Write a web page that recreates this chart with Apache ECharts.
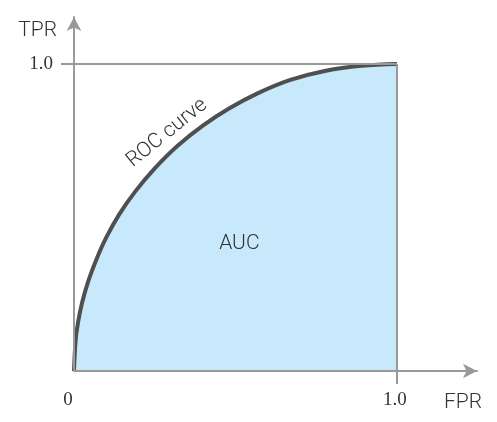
<!DOCTYPE html>
<html>
<head>
<meta charset="utf-8">
<script src="https://cdn.jsdelivr.net/npm/echarts@6/dist/echarts.min.js"></script>
<style>
html,body{margin:0;padding:0;background:#fff;}
#chart{width:497px;height:422px;}
</style>
</head>
<body>
<div id="chart"></div>
<script>
// Data
const fprValues = [0, 0.005, 0.012, 0.025, 0.045, 0.07, 0.1, 0.14, 0.19, 0.25, 0.32, 0.4, 0.48, 0.57, 0.67, 0.78, 0.89, 1];
const tprValues = [0, 0.10, 0.155, 0.222, 0.295, 0.365, 0.435, 0.51, 0.585, 0.66, 0.733, 0.80, 0.855, 0.905, 0.948, 0.978, 0.994, 1];
const xTickLabels = [0, 1];
const yTickLabels = [1];
const refLines = [
  [[0, 1], [1, 1]],
  [[1, 0], [1, 1]]
];
const annotations = [
  { name: 'ROC curve', coord: [0.288, 0.775], rotate: 39 },
  { name: 'AUC', coord: [0.512, 0.414], rotate: 0 }
];

const axisGray = '#999999';
const sansFont = 'Roboto, "Liberation Sans", sans-serif';
const serifFont = '"Liberation Serif", "DejaVu Serif", serif';

const curveData = fprValues.map((x, i) => [x, tprValues[i]]);

const chart = echarts.init(document.getElementById('chart'));
chart.setOption({
  animation: false,
  backgroundColor: '#ffffff',
  grid: { left: 74, right: 20, top: 17, bottom: 51 },
  xAxis: {
    type: 'value', min: 0, max: 1.248, z: 5,
    name: 'FPR', nameLocation: 'end', nameGap: -33,
    nameTextStyle: { fontFamily: sansFont, fontSize: 21, fontWeight: 300, color: '#333', align: 'left', verticalAlign: 'top', padding: [21, 0, 0, 0] },
    axisLine: { show: true, symbol: ['none', 'arrow'], symbolSize: [11, 14], lineStyle: { color: axisGray, width: 2 } },
    axisTick: { show: true, customValues: [1], length: 13, lineStyle: { color: axisGray, width: 2 } },
    axisLabel: {
      customValues: xTickLabels, margin: 20,
      fontFamily: serifFont, fontSize: 19, color: '#333',
      formatter: v => v === 0 ? '{a|0}' : '{b|1.0}',
      rich: {
        a: { fontFamily: serifFont, fontSize: 19, color: '#333', padding: [0, 12, 0, 0] },
        b: { fontFamily: serifFont, fontSize: 19, color: '#333', padding: [0, 4, 0, 0] }
      }
    },
    splitLine: { show: false }
  },
  yAxis: {
    type: 'value', min: 0, max: 1.153, z: 5,
    name: 'TPR', nameLocation: 'end', nameGap: -14,
    nameTextStyle: { fontFamily: sansFont, fontSize: 21, fontWeight: 300, color: '#333', align: 'right', verticalAlign: 'middle', padding: [0, 17, 0, 0] },
    axisLine: { show: true, symbol: ['none', 'arrow'], symbolSize: [11, 14], lineStyle: { color: axisGray, width: 2 } },
    axisTick: { show: true, customValues: yTickLabels, length: 13, lineStyle: { color: axisGray, width: 2 } },
    axisLabel: {
      customValues: yTickLabels, margin: 21,
      fontFamily: serifFont, fontSize: 19, color: '#333',
      formatter: v => v.toFixed(1)
    },
    splitLine: { show: false }
  },
  series: [
    {
      type: 'line', z: 1, data: [], silent: true,
      markLine: {
        silent: true, symbol: 'none',
        label: { show: false },
        lineStyle: { color: axisGray, width: 2, type: 'solid' },
        data: refLines.map(l => [{ coord: l[0] }, { coord: l[1] }])
      }
    },
    {
      type: 'line', z: 3, data: curveData, smooth: 0.4, symbol: 'none',
      lineStyle: { color: '#4f4f4f', width: 4 },
      areaStyle: { color: '#c8e9fb', opacity: 1 },
      markPoint: {
        symbol: 'circle', symbolSize: 1,
        itemStyle: { color: 'rgba(0,0,0,0)' },
        label: { show: true, position: 'inside', fontFamily: sansFont, fontSize: 21, fontWeight: 300, color: '#333' },
        data: annotations.map(a => ({ name: a.name, coord: a.coord, label: { formatter: a.name, rotate: a.rotate } }))
      }
    }
  ]
});
</script>
</body>
</html>
